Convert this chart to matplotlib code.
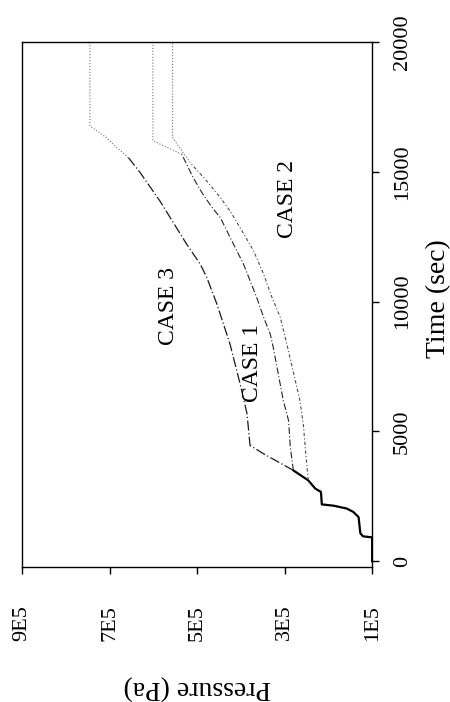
import matplotlib
matplotlib.use("Agg")
import matplotlib.pyplot as plt

plt.rcParams['font.family'] = ['Liberation Serif', 'DejaVu Serif']

# common start-up curve (time in s, pressure in Pa)
t_common = [0, 920, 960, 1080, 1700, 1900, 2030, 2140, 2190, 2670, 2800, 3115, 3500]
p_common = [1.0e5, 1.0e5, 1.21e5, 1.27e5, 1.31e5, 1.43e5, 1.58e5, 1.88e5, 2.15e5, 2.17e5, 2.30e5, 2.46e5, 2.80e5]

# CASE 1
t_case1 = [3500, 4400, 5420, 6190, 8240, 8760, 9400, 10170, 10810, 11450, 12220, 12730, 13240, 13630, 14200, 14780, 15680]
p_case1 = [2.80e5, 2.87e5, 2.91e5, 3.03e5, 3.26e5, 3.33e5, 3.48e5, 3.64e5, 3.79e5, 3.94e5, 4.17e5, 4.32e5, 4.47e5, 4.66e5, 4.89e5, 5.09e5, 5.35e5]
t_case1_end = [16200, 20000]
p_case1_end = [6.01e5, 6.01e5]

# CASE 2
t_case2 = [3115, 4400, 5230, 6190, 8370, 9400, 10170, 11060, 11960, 12860, 13500, 14010, 14650, 15360]
p_case2 = [2.46e5, 2.53e5, 2.57e5, 2.65e5, 2.95e5, 3.10e5, 3.29e5, 3.48e5, 3.71e5, 4.02e5, 4.25e5, 4.47e5, 4.78e5, 5.16e5]
t_case2_end = [16320, 20000]
p_case2_end = [5.56e5, 5.56e5]

# CASE 3
t_case3 = [3500, 4140, 4460, 5690, 6850, 8380, 9920, 10940, 11450, 12220, 13880, 14970, 15550]
p_case3 = [2.80e5, 3.48e5, 3.79e5, 3.86e5, 4.02e5, 4.25e5, 4.55e5, 4.78e5, 4.93e5, 5.24e5, 5.85e5, 6.30e5, 6.57e5]
t_case3_end = [16000, 16320, 16770, 20000]
p_case3_end = [6.88e5, 7.07e5, 7.45e5, 7.45e5]

p_ticks = [1e5, 3e5, 5e5, 7e5, 9e5]
p_labels = ['1E5', '3E5', '5E5', '7E5', '9E5']
t_ticks = [0, 5000, 10000, 15000, 20000]

fig = plt.figure(figsize=(4.5, 7.02), dpi=100)
ax = fig.add_axes([0.049, 0.192, 0.778, 0.748])

# the page is turned: pressure runs horizontally (reversed), time vertically
ax.plot(p_common, t_common, color='black', lw=1.6)
ax.plot(p_case1, t_case1, color='0.15', lw=0.8, ls=(0, (6, 2, 1, 2)))
ax.plot(p_case2, t_case2, color='0.3', lw=0.8, ls=(0, (3, 2, 1, 2)))
ax.plot(p_case3, t_case3, color='0.1', lw=0.9, ls=(0, (8, 2, 1, 2)))
ax.plot([p_case1[-1]] + p_case1_end, [t_case1[-1]] + t_case1_end, color='0.45', lw=0.8, ls=':')
ax.plot([p_case2[-1]] + p_case2_end, [t_case2[-1]] + t_case2_end, color='0.45', lw=0.8, ls=':')
ax.plot([p_case3[-1]] + p_case3_end, [t_case3[-1]] + t_case3_end, color='0.45', lw=0.8, ls=':')

ax.text(5.66e5, 9850, 'CASE 3', rotation=90, fontsize=17, ha='center', va='center')
ax.text(3.74e5, 7650, 'CASE 1', rotation=90, fontsize=17, ha='center', va='center')
ax.text(2.94e5, 13960, 'CASE 2', rotation=90, fontsize=17, ha='center', va='center')

ax.set_xlim(9e5, 1e5)
ax.set_ylim(-230, 20000)

ax.set_xticks(p_ticks)
ax.set_xticklabels(p_labels)
ax.set_yticks(t_ticks)
ax.yaxis.tick_right()
ax.tick_params(axis='x', direction='out', length=5, width=1, pad=22,
               labelrotation=90, labelsize=16)
ax.tick_params(axis='y', direction='out', length=5, width=1, pad=10,
               labelrotation=90, labelsize=16)
for lab in ax.get_yticklabels():
    lab.set_va('center')

ax.set_xlabel('Pressure (Pa)', fontsize=20, rotation=180, va='center', ha='center')
ax.xaxis.set_label_coords(0.5, -0.229)
ax.yaxis.set_label_position('right')
ax.set_ylabel('Time (sec)', fontsize=20, rotation=90, va='center', ha='center')
ax.yaxis.set_label_coords(1.189, 0.512)

for s in ax.spines.values():
    s.set_linewidth(1.0)

fig.savefig('out.png', dpi=100)
